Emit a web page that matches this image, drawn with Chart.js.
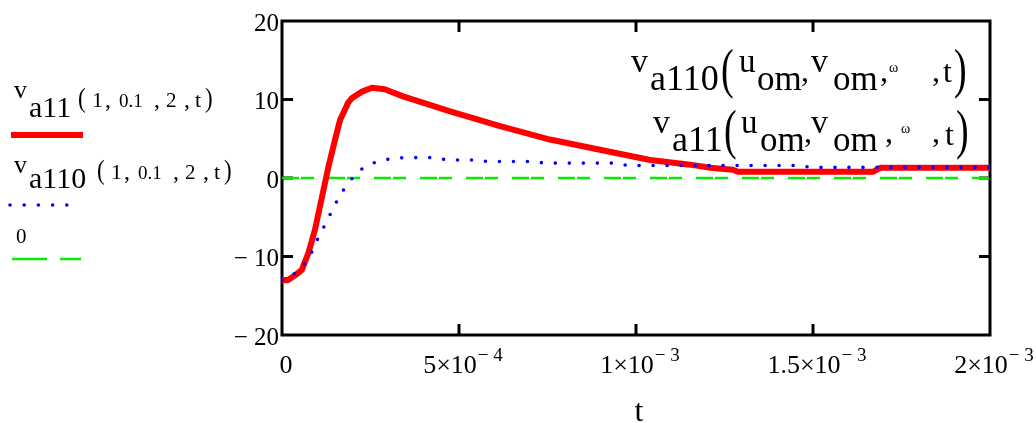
<!DOCTYPE html>
<html>
<head>
<meta charset="utf-8">
<script src="https://cdn.jsdelivr.net/npm/chart.js"></script>
<style>
body { margin: 0; background: #fff; }
</style>
</head>
<body>
<canvas id="chart" width="1036" height="423"></canvas>
<script>
// t values are in ms here, converted to seconds when the points are built
var tRed = [0, 0.017, 0.037, 0.056, 0.075, 0.093, 0.113, 0.131, 0.150, 0.164, 0.187, 0.198, 0.226, 0.254, 0.290, 0.342, 0.475, 0.616, 0.757, 0.898, 1.04, 1.153, 1.21, 1.274, 1.288, 1.67, 1.69, 2.0];
var vA11 = [-13.0, -13.0, -12.4, -11.7, -9.5, -6.6, -2.4, 1.4, 4.9, 7.4, 9.6, 10.2, 11.0, 11.5, 11.3, 10.4, 8.5, 6.6, 4.9, 3.6, 2.3, 1.7, 1.3, 1.06, 0.8, 0.8, 1.3, 1.3];

var tBlue = [0, 0.028, 0.065, 0.087, 0.104, 0.126, 0.145, 0.166, 0.195, 0.229, 0.268, 0.307, 0.347, 0.427, 0.466, 0.545, 0.582, 0.706, 0.743, 0.941, 0.977, 1.455, 1.497, 2.0];
var vA110 = [-13.0, -12.5, -10.9, -9.2, -7.4, -5.6, -3.8, -2.0, -0.2, 1.3, 2.1, 2.45, 2.6, 2.6, 2.3, 2.3, 2.1, 2.1, 1.9, 1.9, 1.6, 1.6, 1.35, 1.35];

var tZero = [0, 2.0];
var vZero = [0, 0];

var xTicks = [0, 0.5e-3, 1e-3, 1.5e-3, 2e-3];
var xTickBase = ['0', '5×10', '1×10', '1.5×10', '2×10'];
var xTickExp = ['', '− 4', '− 3', '− 3', '− 3'];
var yTicks = [-20, -10, 0, 10, 20];
var yTickLabels = ['− 20', '− 10', '0', '10', '20'];

var FONT = '"Liberation Serif", "Times New Roman", serif';

function toPoints(ts, vs) {
    return ts.map((t, i) => ({ x: t * 1e-3, y: vs[i] }));
}

function font(size) {
    return size + 'px ' + FONT;
}

// runs: [text, size, x, baseline, vertical stretch]
function drawRuns(ctx, runs, dx, dy) {
    ctx.textAlign = 'left';
    ctx.textBaseline = 'alphabetic';
    runs.forEach(r => {
        var x = r[2] + (dx || 0), y = r[3] + (dy || 0);
        ctx.font = font(r[1]);
        if (r[4]) {
            ctx.save();
            ctx.translate(x, y);
            ctx.scale(1, r[4]);
            ctx.fillText(r[0], 0, 0);
            ctx.restore();
        } else {
            ctx.fillText(r[0], x, y);
        }
    });
}

var frame = {
    id: 'frame',
    beforeDatasetsDraw(chart) {
        var ctx = chart.ctx, a = chart.chartArea;
        var xs = chart.scales.x, ys = chart.scales.y;
        ctx.save();
        ctx.strokeStyle = '#000';
        ctx.lineWidth = 3;
        ctx.strokeRect(a.left, a.top, a.right - a.left, a.bottom - a.top);
        ctx.beginPath();
        [-10, 0, 10].forEach(v => {
            var y = ys.getPixelForValue(v);
            ctx.moveTo(a.left, y); ctx.lineTo(a.left + 11, y);
            ctx.moveTo(a.right, y); ctx.lineTo(a.right - 11, y);
        });
        xTicks.slice(1, -1).forEach(v => {
            var x = xs.getPixelForValue(v);
            ctx.moveTo(x, a.top); ctx.lineTo(x, a.top + 11);
            ctx.moveTo(x, a.bottom); ctx.lineTo(x, a.bottom - 11);
        });
        ctx.stroke();
        ctx.restore();
    },
    afterDatasetsDraw(chart) {
        var ctx = chart.ctx, a = chart.chartArea;
        var xs = chart.scales.x, ys = chart.scales.y;
        ctx.save();
        ctx.fillStyle = '#000';

        // y tick labels
        ctx.font = font(25);
        ctx.textAlign = 'right';
        ctx.textBaseline = 'middle';
        yTicks.forEach((v, i) => {
            ctx.fillText(yTickLabels[i], a.left - 3, ys.getPixelForValue(v) + 3);
        });

        // x tick labels with exponents
        ctx.textBaseline = 'alphabetic';
        ctx.textAlign = 'left';
        xTicks.forEach((v, i) => {
            ctx.font = font(26);
            var wb = ctx.measureText(xTickBase[i]).width;
            ctx.font = font(19);
            var we = xTickExp[i] ? ctx.measureText(xTickExp[i]).width + 1 : 0;
            var x0 = xs.getPixelForValue(v) + 4 - (wb + we) / 2;
            ctx.font = font(26);
            ctx.fillText(xTickBase[i], x0, 373);
            if (xTickExp[i]) {
                ctx.font = font(19);
                ctx.fillText(xTickExp[i], x0 + wb + 1, 361);
            }
        });

        // axis title
        ctx.font = font(32);
        ctx.textAlign = 'center';
        ctx.fillText('t', 639, 421);

        // trace names inside the plot
        drawRuns(ctx, [
            ['v', 34, 631, 72], ['a110', 36, 650, 90], ['(', 38, 721, 87, 1.45],
            ['u', 33, 739, 72], ['om', 35, 757, 90], [',', 32, 801, 81],
            ['v', 34, 811, 72], ['om', 35, 833, 90], [',', 32, 880, 81],
            ['ω', 14, 889, 72], [',', 32, 932, 81], ['t', 32, 943, 82], [')', 38, 954, 87, 1.45]
        ]);
        drawRuns(ctx, [
            ['v', 34, 653, 133], ['a11', 36, 672, 151], ['(', 38, 724, 148, 1.45],
            ['u', 33, 741, 133], ['om', 35, 760, 151], [',', 32, 804, 142],
            ['v', 34, 811, 133], ['om', 35, 833, 151], [',', 32, 885, 142],
            ['ω', 14, 901, 133], [',', 32, 932, 142], ['t', 32, 945, 145], [')', 38, 956, 148, 1.45]
        ]);

        // legend on the left
        var args = [
            ['(', 23, 78, 107, 1.2], ['1', 22, 92, 107], [',', 24, 105, 107],
            ['0.1', 19, 119, 107], [',', 24, 154, 107], ['2', 21, 166, 107],
            [',', 24, 184, 107], ['t', 22, 195, 107], [')', 23, 205, 107, 1.2]
        ];
        drawRuns(ctx, [['v', 26, 14, 98], ['a11', 30, 29, 117]]);
        drawRuns(ctx, args);
        drawRuns(ctx, [['v', 26, 14, 173], ['a110', 30, 29, 188]]);
        drawRuns(ctx, args, 19, 72);
        drawRuns(ctx, [['0', 21, 16, 243]]);

        ctx.lineWidth = 6;
        ctx.strokeStyle = '#ff0000';
        ctx.beginPath(); ctx.moveTo(11, 135); ctx.lineTo(83, 135); ctx.stroke();

        ctx.fillStyle = '#0000ff';
        for (var i = 0; i < 5; i++) {
            ctx.beginPath(); ctx.arc(10 + i * 14.2, 205, 1.8, 0, Math.PI * 2); ctx.fill();
        }

        ctx.lineWidth = 2.5;
        ctx.strokeStyle = '#00ee00';
        ctx.beginPath();
        ctx.moveTo(12, 259); ctx.lineTo(47, 259);
        ctx.moveTo(60, 259); ctx.lineTo(81, 259);
        ctx.stroke();
        ctx.restore();
    }
};

var ctx = document.getElementById('chart').getContext('2d');
var chart = new Chart(ctx, {
    type: 'line',
    data: {
        datasets: [{
            label: 'va110',
            data: toPoints(tBlue, vA110),
            borderColor: '#0000ff',
            borderWidth: 3.6,
            borderDash: [0, 14],
            borderCapStyle: 'round',
            pointRadius: 0,
            fill: false,
            tension: 0,
            order: 1
        }, {
            label: 'va11',
            data: toPoints(tRed, vA11),
            borderColor: '#ff0000',
            borderWidth: 6,
            borderJoinStyle: 'round',
            pointRadius: 0,
            fill: false,
            tension: 0,
            order: 2
        }, {
            label: 'zero',
            data: toPoints(tZero, vZero),
            borderColor: '#00ee00',
            borderWidth: 2.5,
            borderDash: [17, 2, 13, 14],
            pointRadius: 0,
            fill: false,
            order: 3
        }]
    },
    options: {
        responsive: false,
        animation: false,
        layout: { padding: { left: 282, right: 46, top: 21, bottom: 88 } },
        plugins: { legend: { display: false }, tooltip: { enabled: false } },
        scales: {
            x: { type: 'linear', min: 0, max: 2e-3, display: false },
            y: { min: -20, max: 20, display: false }
        }
    },
    plugins: [frame]
});
</script>
</body>
</html>
